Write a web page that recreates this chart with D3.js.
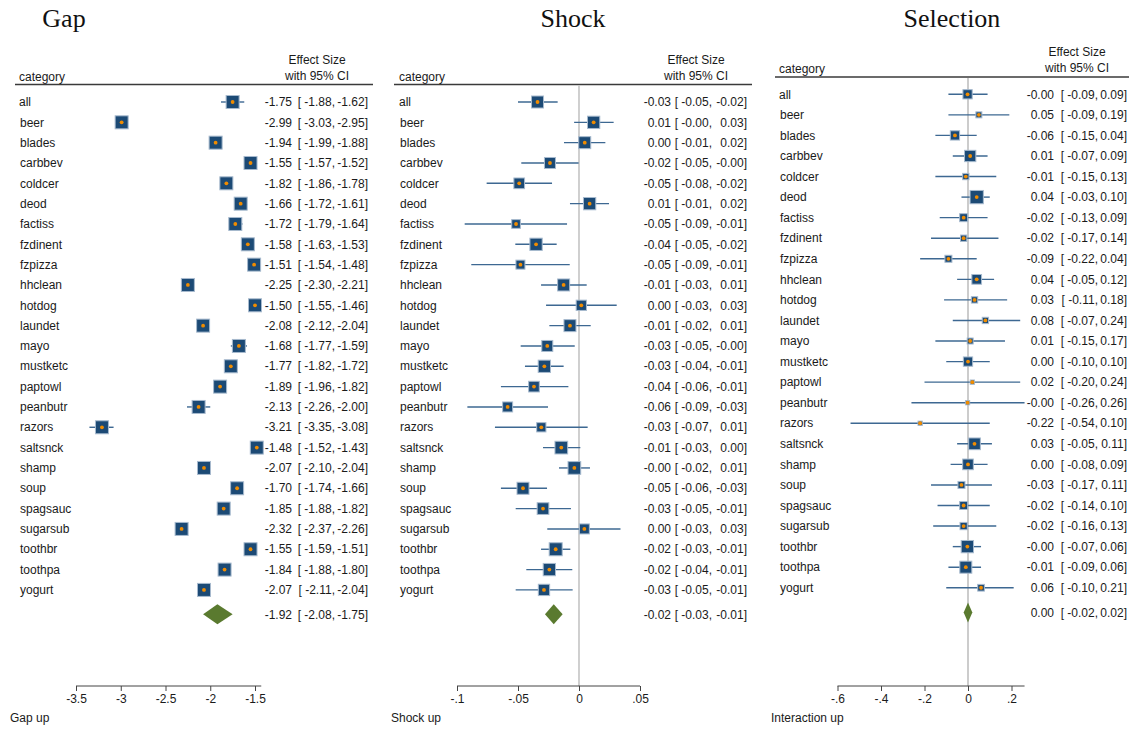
<!DOCTYPE html>
<html>
<head>
<meta charset="utf-8">
<script src="https://cdn.jsdelivr.net/npm/d3@7"></script>
<style>
  body { margin: 0; background: #fff; }
  svg { display: block; font-family: "Liberation Sans", Arial, sans-serif; font-size: 12px; }
  .title { font-family: "Liberation Serif", "Times New Roman", serif; font-size: 26px; fill: #111; }
  .lbl { fill: #1a1a1a; }
</style>
</head>
<body>
<svg id="chart" width="1129" height="729"></svg>
<script>
// --- Data ---
var categories = ['all', 'beer', 'blades', 'carbbev', 'coldcer', 'deod', 'factiss', 'fzdinent',
  'fzpizza', 'hhclean', 'hotdog', 'laundet', 'mayo', 'mustketc', 'paptowl', 'peanbutr', 'razors',
  'saltsnck', 'shamp', 'soup', 'spagsauc', 'sugarsub', 'toothbr', 'toothpa', 'yogurt'];

// Gap
var gapEst = [-1.75, -2.99, -1.94, -1.55, -1.82, -1.66, -1.72, -1.58, -1.51, -2.25, -1.50, -2.08, -1.68,
  -1.77, -1.89, -2.13, -3.21, -1.48, -2.07, -1.70, -1.85, -2.32, -1.55, -1.84, -2.07];
var gapLo = [-1.88, -3.03, -1.99, -1.57, -1.86, -1.72, -1.79, -1.63, -1.54, -2.30, -1.55, -2.12, -1.77,
  -1.82, -1.96, -2.26, -3.35, -1.52, -2.10, -1.74, -1.88, -2.37, -1.59, -1.88, -2.11];
var gapHi = [-1.62, -2.95, -1.88, -1.52, -1.78, -1.61, -1.64, -1.53, -1.48, -2.21, -1.46, -2.04, -1.59,
  -1.72, -1.82, -2.00, -3.08, -1.43, -2.04, -1.66, -1.82, -2.26, -1.51, -1.80, -2.04];
var gapWeight = [16.9, 16.9, 16.9, 16.9, 16.9, 16.9, 16.9, 16.9, 16.9, 16.9, 16.9, 16.9, 16.9,
  16.9, 16.9, 16.9, 16.9, 16.9, 16.9, 16.9, 16.9, 16.9, 16.9, 16.9, 16.9];
var gapOverall = [-1.92, -2.08, -1.75];
var gapTicks = [-3.5, -3, -2.5, -2, -1.5];
var gapTickLabels = ['-3.5', '-3', '-2.5', '-2', '-1.5'];

// Shock
var shockEst = [-0.034, 0.012, 0.0047, -0.0238, -0.049, 0.0087, -0.0516, -0.0352, -0.048, -0.0126,
  0.0019, -0.0074, -0.026, -0.0284, -0.0369, -0.0585, -0.0309, -0.0145, -0.0038, -0.0459, -0.0295,
  0.0044, -0.0191, -0.0243, -0.0287];
var shockLo = [-0.050, -0.004, -0.0123, -0.0473, -0.0757, -0.0074, -0.0937, -0.0522, -0.0883, -0.0311,
  -0.027, -0.0243, -0.0478, -0.0443, -0.064, -0.0915, -0.0689, -0.0295, -0.0164, -0.064, -0.0519,
  -0.026, -0.0311, -0.0432, -0.0519];
var shockHi = [-0.0175, 0.0284, 0.0216, -0.0003, -0.0221, 0.0246, -0.0098, -0.0183, -0.0076, 0.0063,
  0.0309, 0.0096, -0.0035, -0.0126, -0.0087, -0.0254, 0.0071, 0.0011, 0.009, -0.0262, -0.0066,
  0.034, -0.0071, -0.0055, -0.0052];
var shockWeight = [14.4, 15.1, 14.4, 12.1, 11.4, 15.1, 7.6, 15.1, 8.1, 14.4, 10.6, 14.4, 12.1,
  15.1, 11.4, 10.0, 8.6, 16.1, 16.1, 14.4, 13.7, 10.0, 16.9, 15.1, 12.8];
var shockOverall = [-0.0207, -0.0279, -0.0134];
var shockTicks = [-0.1, -0.05, 0, 0.05];
var shockTickLabels = ['-.1', '-.05', '0', '.05'];

// Selection (tiny negatives shown as -0.00)
var selEst = [-0.002, 0.05, -0.06, 0.01, -0.01, 0.04, -0.02, -0.02, -0.09, 0.04, 0.03, 0.08, 0.01,
  0.00, 0.02, -0.002, -0.22, 0.03, 0.00, -0.03, -0.02, -0.02, -0.003, -0.01, 0.06];
var selLo = [-0.09, -0.09, -0.15, -0.07, -0.15, -0.03, -0.13, -0.17, -0.22, -0.05, -0.11, -0.07, -0.15,
  -0.10, -0.20, -0.26, -0.54, -0.05, -0.08, -0.17, -0.14, -0.16, -0.07, -0.09, -0.10];
var selHi = [0.09, 0.19, 0.04, 0.09, 0.13, 0.10, 0.09, 0.14, 0.04, 0.12, 0.18, 0.24, 0.17,
  0.10, 0.24, 0.26, 0.10, 0.11, 0.09, 0.11, 0.10, 0.13, 0.06, 0.06, 0.21];
var selWeight = [8.6, 3.6, 8.6, 12.8, 4.0, 17.7, 6.4, 4.0, 4.9, 9.4, 4.0, 4.0, 3.6,
  8.6, 1.8, 1.8, 1.8, 13.7, 11.4, 4.9, 6.4, 5.3, 15.1, 14.4, 4.5];
var selOverall = [0.00, -0.02, 0.02];
var selTicks = [-0.6, -0.4, -0.2, 0, 0.2];
var selTickLabels = ['-.6', '-.4', '-.2', '0', '.2'];

// --- Drawing ---
var svg = d3.select('#chart');

function fmt(v) { return v.toFixed(2); }

function drawPanel(p) {
  var g = svg.append('g');
  var x = d3.scaleLinear().domain(p.domain).range(p.range);
  // row index -> vertical position (overall row sits a little lower)
  var y = d3.scaleLinear().domain([0, 1]).range([p.top, p.top + p.step]);
  var side = d3.scaleSqrt().domain([0, d3.max(p.weight)]).range([0, p.maxBox]);

  var rows = categories.map(function(c, i) {
    return { name: c, est: p.est[i], lo: p.lo[i], hi: p.hi[i], w: p.weight[i], i: i };
  });
  var overallIdx = categories.length + 0.2;

  // Title
  g.append('text').attr('class', 'title')
    .attr('x', p.titleX).attr('y', 27)
    .attr('text-anchor', 'middle')
    .text(p.title);

  // Header
  g.append('text').attr('class', 'lbl')
    .attr('x', p.labelX).attr('y', p.ruleY - 4)
    .text('category');
  g.append('text').attr('class', 'lbl')
    .attr('x', p.headX).attr('y', p.ruleY - 21)
    .attr('text-anchor', 'middle')
    .text('Effect Size');
  g.append('text').attr('class', 'lbl')
    .attr('x', p.headX).attr('y', p.ruleY - 5)
    .attr('text-anchor', 'middle')
    .text('with 95% CI');
  g.append('line')
    .attr('x1', p.ruleX[0]).attr('x2', p.ruleX[1])
    .attr('y1', p.ruleY).attr('y2', p.ruleY)
    .attr('stroke', '#3a3a3a').attr('stroke-width', 1.6);

  // Zero reference line
  if (p.domain[0] < 0 && p.domain[1] > 0) {
    g.append('line')
      .attr('x1', x(0)).attr('x2', x(0))
      .attr('y1', p.ruleY + 1).attr('y2', p.axisY)
      .attr('stroke', p.refColor).attr('stroke-width', p.refWidth);
  }

  // Axis
  var axisG = g.append('g')
    .attr('transform', 'translate(0,' + p.axisY + ')')
    .call(d3.axisBottom(x)
      .tickValues(p.ticks)
      .tickFormat(function(d, i) { return p.tickLabels[i]; })
      .tickSize(5)
      .tickPadding(3));
  axisG.select('.domain').remove();
  axisG.selectAll('.tick line').attr('stroke', '#444');
  axisG.selectAll('.tick text')
    .attr('font-family', '"Liberation Sans", Arial, sans-serif')
    .attr('font-size', 12).attr('fill', '#1a1a1a');
  var lowest = Math.min(d3.min(p.ticks), d3.min(p.lo));
  var highest = Math.max(d3.max(p.ticks), d3.max(p.hi));
  axisG.append('line')
    .attr('x1', x(lowest)).attr('x2', x(highest))
    .attr('stroke', '#444').attr('stroke-width', 1);

  g.append('text').attr('class', 'lbl')
    .attr('x', p.axisTitleX).attr('y', 722)
    .text(p.axisTitle);

  // Rows
  var row = g.selectAll('g.row')
    .data(rows)
    .join('g')
    .attr('class', 'row')
    .attr('transform', function(d) { return 'translate(0,' + y(d.i) + ')'; });

  row.append('text').attr('class', 'lbl')
    .attr('x', function(d) { return d.i === 0 ? p.labelX : p.labelX + 1; })
    .attr('dy', '0.35em')
    .text(function(d) { return d.name; });

  row.append('line')
    .attr('x1', function(d) { return x(d.lo); })
    .attr('x2', function(d) { return x(d.hi); })
    .attr('stroke', '#3d6892').attr('stroke-width', 1.4);

  row.append('rect')
    .attr('x', function(d) { return x(d.est) - side(d.w) / 2; })
    .attr('y', function(d) { return -side(d.w) / 2; })
    .attr('width', function(d) { return side(d.w); })
    .attr('height', function(d) { return side(d.w); })
    .attr('fill', '#1c4a75')
    .attr('stroke', '#a7bace').attr('stroke-width', 1);

  row.append('circle')
    .attr('cx', function(d) { return x(d.est); })
    .attr('r', 1.9)
    .attr('fill', '#f08c00');

  // Value columns
  function values(sel) {
    sel.append('text').attr('class', 'lbl')
      .attr('x', p.valX[0]).attr('dy', '0.35em').attr('text-anchor', 'end')
      .text(function(d) { return fmt(d.est); });
    sel.append('text').attr('class', 'lbl')
      .attr('x', p.valX[1]).attr('dy', '0.35em').attr('text-anchor', 'end')
      .text(function(d) { return '[ ' + fmt(d.lo) + ','; });
    sel.append('text').attr('class', 'lbl')
      .attr('x', p.valX[2]).attr('dy', '0.35em').attr('text-anchor', 'end')
      .text(function(d) { return fmt(d.hi) + ']'; });
  }
  values(row);

  // Overall diamond
  var ov = { est: p.overall[0], lo: p.overall[1], hi: p.overall[2] };
  var og = g.append('g')
    .datum(ov)
    .attr('transform', 'translate(0,' + y(overallIdx) + ')');
  og.append('path')
    .attr('d', function(d) {
      return 'M' + x(d.lo) + ',0L' + x(d.est) + ',-10L' + x(d.hi) + ',0L' + x(d.est) + ',10Z';
    })
    .attr('fill', '#5a7a2f');
  values(og);
}

drawPanel({
  title: 'Gap', titleX: 64,
  est: gapEst, lo: gapLo, hi: gapHi, weight: gapWeight, overall: gapOverall,
  ticks: gapTicks, tickLabels: gapTickLabels,
  domain: [-3.5, -1.5], range: [76, 255],
  top: 102, step: 20.33, maxBox: 13,
  labelX: 19, headX: 317, ruleY: 84.5, ruleX: [15, 373],
  valX: [292, 335, 368],
  axisY: 686, axisTitle: 'Gap up', axisTitleX: 10,
  refColor: '#bbb', refWidth: 1.5
});

drawPanel({
  title: 'Shock', titleX: 573,
  est: shockEst, lo: shockLo, hi: shockHi, weight: shockWeight, overall: shockOverall,
  ticks: shockTicks, tickLabels: shockTickLabels,
  domain: [-0.1, 0.05], range: [457, 640],
  top: 102, step: 20.33, maxBox: 13,
  labelX: 399, headX: 696, ruleY: 84.5, ruleX: [394, 752],
  valX: [671, 712, 747],
  axisY: 686, axisTitle: 'Shock up', axisTitleX: 391,
  refColor: '#c4c4c4', refWidth: 1.6
});

drawPanel({
  title: 'Selection', titleX: 952,
  est: selEst, lo: selLo, hi: selHi, weight: selWeight, overall: selOverall,
  ticks: selTicks, tickLabels: selTickLabels,
  domain: [-0.6, 0.2], range: [837.5, 1011.5],
  top: 94.3, step: 20.56, maxBox: 13.3,
  labelX: 779, headX: 1077, ruleY: 77, ruleX: [775, 1129],
  valX: [1054, 1098, 1127],
  axisY: 686, axisTitle: 'Interaction up', axisTitleX: 771,
  refColor: '#999', refWidth: 1
});
</script>
</body>
</html>
